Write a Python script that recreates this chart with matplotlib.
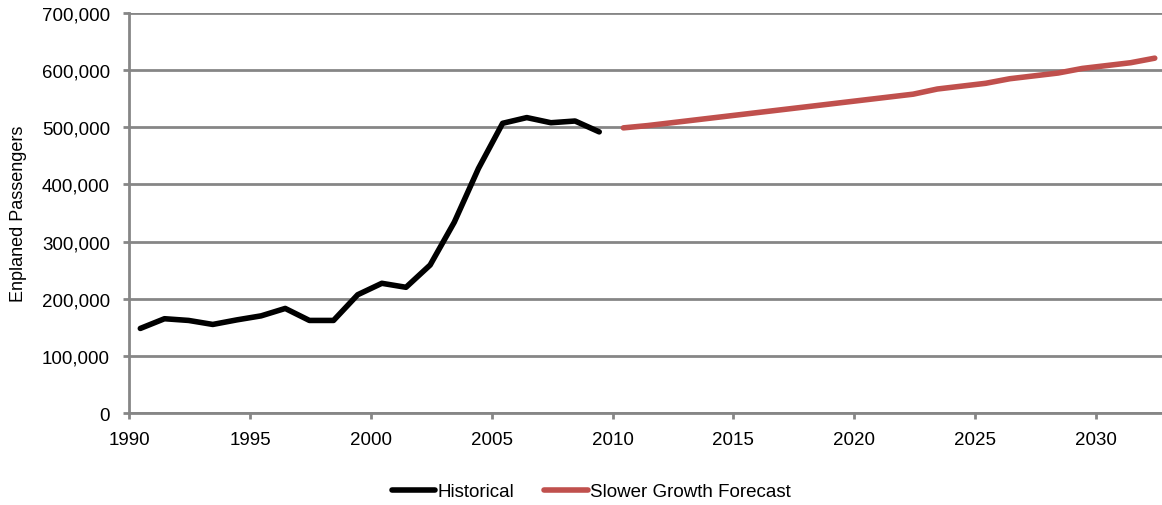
#!/usr/bin/env python3
"""Enplaned passengers: historical counts and the slower-growth forecast."""

import matplotlib
matplotlib.use("Agg")
import matplotlib.pyplot as plt
from matplotlib.ticker import FuncFormatter

plt.rcParams["font.family"] = ["Liberation Sans", "DejaVu Sans"]

# ── Data ────────────────────────────────────────────────────────────────────
hist_years = list(range(1990, 2010))
hist_pax = [148000, 165000, 162000, 155000, 163000, 170000, 183000, 162000,
            162000, 207000, 227000, 220000, 259000, 334000, 428000, 507000,
            517000, 508000, 511000, 492000]

fcst_years = list(range(2010, 2033))
fcst_pax = [499000, 503000, 508000, 513000, 518000, 523000, 528000, 533000,
            538000, 543000, 548000, 553000, 558000, 567000, 572000, 577000,
            585000, 590000, 595000, 603000, 608000, 613000, 621000]

year_ticks = list(range(1990, 2035, 5))
y_ticks = list(range(0, 700001, 100000))

GRID = "#868686"
RED = "#C0504D"
OFFSET = 0.45   # points sit mid-year, ticks at year start


def main():
    fig = plt.figure(figsize=(11.62, 5.06), dpi=100)
    ax = fig.add_axes([0.1114, 0.1818, 0.8886, 0.7905])

    ax.plot([y + OFFSET for y in hist_years], hist_pax, color="black",
            lw=4, solid_capstyle="round", solid_joinstyle="round",
            label="Historical", zorder=3)
    ax.plot([y + OFFSET for y in fcst_years], fcst_pax, color=RED,
            lw=4, solid_capstyle="round", solid_joinstyle="round",
            label="Slower Growth Forecast", zorder=3)

    ax.set_xlim(1990, 2032.75)
    ax.set_ylim(0, 700000)
    ax.set_xticks(year_ticks)
    ax.set_yticks(y_ticks)
    ax.yaxis.set_major_formatter(FuncFormatter(lambda v, _: f"{v:,.0f}"))

    ax.grid(axis="y", color=GRID, lw=2, zorder=0)
    ax.set_axisbelow(True)
    for side in ("top", "right"):
        ax.spines[side].set_visible(False)
    for side in ("left", "bottom"):
        ax.spines[side].set_color(GRID)
        ax.spines[side].set_linewidth(2)
    ax.tick_params(axis="both", colors=GRID, labelcolor="black",
                   labelsize=13.5, length=4, width=2)
    ax.tick_params(axis="y", pad=10)
    ax.tick_params(axis="x", pad=9)

    ax.set_ylabel("Enplaned Passengers", fontsize=13, labelpad=11)

    fig.legend(loc="center", bbox_to_anchor=(0.509, 0.026), ncol=2,
               frameon=False, fontsize=13.5, handlelength=2.3,
               handletextpad=0.15, columnspacing=1.6)

    fig.savefig("out.png", dpi=100)
    plt.close(fig)


if __name__ == "__main__":
    main()
